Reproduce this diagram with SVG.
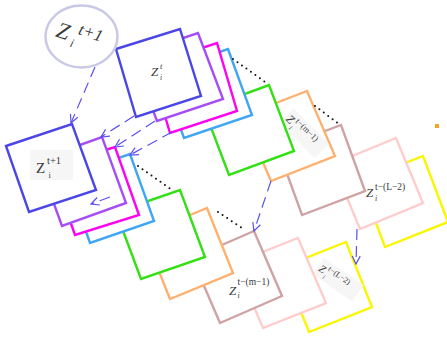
<svg xmlns="http://www.w3.org/2000/svg" width="447" height="339" viewBox="0 0 447 339">
  <style>
    .sq { fill: #ffffff; stroke-width: 2.4; stroke-linejoin: miter; }
    .indigo { stroke: #4b46e6; }
    .purple { stroke: #a64ef5; }
    .magenta { stroke: #ff00f0; }
    .sky { stroke: #3fa6f5; }
    .green { stroke: #33e014; }
    .orange { stroke: #ffb06e; }
    .rose { stroke: #cfa3a3; }
    .pink { stroke: #ffcccc; }
    .yellow { stroke: #fbf500; }
    .lbl { font-family: "Liberation Serif", "DejaVu Serif", serif; fill: #3a3a3a; }
    .it { font-style: italic; }
    .arrow { fill: none; stroke: #5a50f0; stroke-width: 1.2; stroke-dasharray: 11 6; marker-end: url(#vhead); }
    .dots { fill: none; stroke: #111111; stroke-width: 2; stroke-linecap: round; stroke-dasharray: 0 5.5; }
    .tag { fill: #f6f6f6; }
  </style>
  <defs>
    <marker id="vhead" viewBox="0 0 10 10" refX="9" refY="5" markerWidth="10" markerHeight="10" markerUnits="userSpaceOnUse" orient="auto">
      <path d="M1,1 L9,5 L1,9" fill="none" stroke="#5a50f0" stroke-width="1.2" stroke-dasharray="none"/>
    </marker>
  </defs>

  <!-- upper stack, drawn back to front -->
  <g id="upper-yellow"><polygon class="sq yellow" points="360,181 423,156 448,222 385,247"/></g>
  <g id="upper-pink"><polygon class="sq pink" points="333,164 396,138 423,203 360,229"/></g>
  <g id="upper-rose">
    <polygon class="sq rose" points="278,149 341,125 365,191 302,215"/>
    <text class="lbl it" x="366" y="197" font-size="13">Z</text>
    <text class="lbl" x="375" y="190" font-size="9.5">t−(L−2)</text>
    <text class="lbl it" x="375" y="201" font-size="8">i</text>
  </g>
  <g id="upper-orange">
    <polygon class="sq orange" points="243,116 307,91 335,156 271,181"/>
    <g transform="translate(288,117) rotate(45)">
      <rect class="tag" x="-2" y="-10" width="50" height="20"/>
      <text class="lbl it" x="0" y="4" font-size="12" fill="#666">Z</text>
      <text class="lbl" x="8.5" y="-1.5" font-size="8.5" fill="#666">t−(m−1)</text>
      <text class="lbl it" x="8.5" y="8" font-size="7" fill="#666">i</text>
    </g>
  </g>
  <g id="upper-green"><polygon class="sq green" points="204,109 269,85 294,151 229,175"/></g>
  <g id="upper-sky"><polygon class="sq sky" points="160,72 228,49 252,115 184,138"/></g>
  <g id="upper-magenta"><polygon class="sq magenta" points="150,65 217,43 237,111 170,133"/></g>
  <g id="upper-purple"><polygon class="sq purple" points="132,55 198,33 223,99 157,121"/></g>
  <g id="upper-indigo">
    <polygon class="sq indigo" points="116,49 180,29 201,96 136,117"/>
    <text class="lbl it" x="151" y="76" font-size="13" fill="#555">Z</text>
    <text class="lbl it" x="160" y="69" font-size="8.5" fill="#555">t</text>
    <text class="lbl it" x="160" y="79.5" font-size="7.5" fill="#555">i</text>
  </g>

  <!-- lower stack, drawn back to front -->
  <g id="lower-yellow">
    <polygon class="sq yellow" points="283,267 346,242 372,307 309,332"/>
    <g transform="translate(320,267) rotate(35)">
      <rect class="tag" x="-2" y="-10" width="48" height="20"/>
      <text class="lbl it" x="0" y="4" font-size="11" fill="#666">Z</text>
      <text class="lbl" x="8" y="-1.5" font-size="8" fill="#666">t−(L−2)</text>
      <text class="lbl it" x="8" y="8" font-size="6.5" fill="#666">i</text>
    </g>
  </g>
  <g id="lower-pink"><polygon class="sq pink" points="235,263 298,238 326,303 263,328"/></g>
  <g id="lower-rose">
    <polygon class="sq rose" points="192,258 254,231 282,296 220,323"/>
    <text class="lbl it" x="229" y="295" font-size="13">Z</text>
    <text class="lbl" x="237.5" y="285" font-size="9.5">t−(m−1)</text>
    <text class="lbl it" x="237.5" y="298" font-size="8">i</text>
  </g>
  <g id="lower-orange"><polygon class="sq orange" points="144,234 207,208 233,273 170,299"/></g>
  <g id="lower-green"><polygon class="sq green" points="116,212 180,190 205,257 141,279"/></g>
  <g id="lower-sky"><polygon class="sq sky" points="66,176 130,154 154,221 90,243"/></g>
  <g id="lower-magenta"><polygon class="sq magenta" points="51,167 115,147 139,215 75,235"/></g>
  <g id="lower-purple"><polygon class="sq purple" points="38,160 102,137 126,203 62,226"/></g>
  <g id="lower-indigo">
    <polygon class="sq indigo" points="6,146 72,124 96,190 29,212"/>
    <rect class="tag" x="30" y="150" width="43" height="30"/>
    <text class="lbl" x="36" y="173" font-size="15">Z</text>
    <text class="lbl" x="47" y="164" font-size="10.5">t+1</text>
    <text class="lbl" x="48.5" y="177.5" font-size="8.5">i</text>
  </g>

  <!-- next-state bubble -->
  <g id="bubble">
    <ellipse cx="81.5" cy="36.5" rx="36" ry="31" fill="#ffffff" stroke="#c9c9e6" stroke-width="2.5"/>
    <g transform="translate(80,36) rotate(18)">
      <text class="lbl it" x="-24" y="8" font-size="23">Z</text>
      <text class="lbl it" x="-3" y="-1" font-size="17">t+1</text>
      <text class="lbl it" x="-7" y="13" font-size="12">i</text>
    </g>
  </g>

  <!-- small marker at the right edge -->
  <g id="dot-mark"><rect x="435" y="124" width="4" height="4" fill="#f5a623"/></g>

  <!-- connectors -->
  <g id="connectors">
    <path class="dots" d="M233,59 L268,84"/>
    <path class="dots" d="M315,106 L339,124"/>
    <path class="dots" d="M138,166 L172,190"/>
    <path class="dots" d="M218,212 L242,228"/>
    <path class="arrow" d="M95,67 L71,123"/>
    <path class="arrow" d="M134,116 L101,137"/>
    <path class="arrow" d="M155,121 L115,147"/>
    <path class="arrow" d="M172,132 L130,155"/>
    <path class="arrow" d="M110,197 L91,204" stroke-dasharray="6 4"/>
    <path class="arrow" d="M271,181 L254,231"/>
    <path class="arrow" d="M357,229 L356,264"/>
  </g>
</svg>
